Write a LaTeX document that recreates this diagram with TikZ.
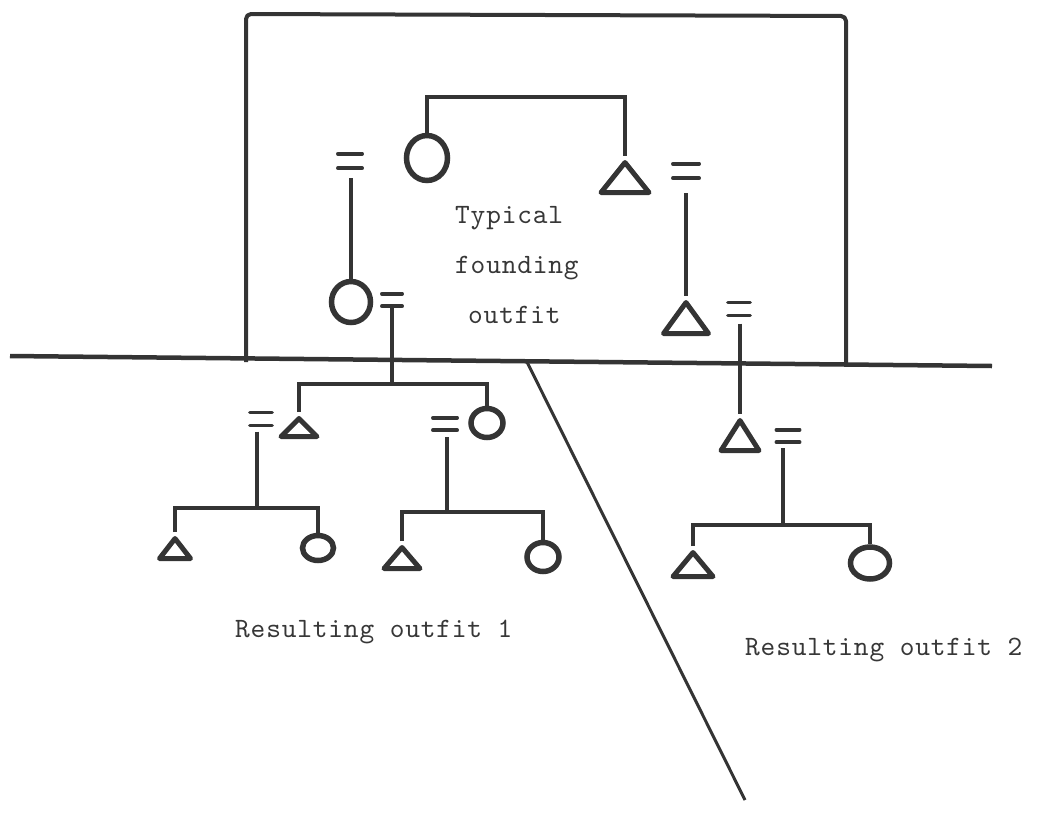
\documentclass[tikz,border=0pt]{standalone}
\usepackage{fontspec}
\newfontfamily\twfont{lmmono10-regular.otf}[LetterSpace=3]
\usetikzlibrary{shapes.geometric}
\definecolor{ink}{RGB}{52,52,52}
\definecolor{typeink}{RGB}{55,55,55}
\begin{document}
\begin{tikzpicture}[x=1pt,y=-1pt,
  frame/.style={draw=ink,line width=4,line join=round},
  ground/.style={draw=ink,line width=4.5},
  slant/.style={draw=ink,line width=3},
  conn/.style={draw=ink,line width=3.6,line join=miter},
  circ/.style={ellipse,draw=ink,line width=5.5,inner sep=0},
  tri/.style={isosceles triangle,isosceles triangle stretches,shape border rotate=90,
              draw=ink,line width=5,line join=round,inner sep=0,anchor=apex},
  eqs/.style={inner sep=0},
  bar/.style={draw=ink,line width=3.5,line cap=round},
  lbl/.style={font=\fontsize{28}{32}\selectfont\twfont,text=typeink,inner sep=0,anchor=base west}]
\useasboundingbox (0,0) rectangle (1042,828);

% frame, dividing line, slanted line
\draw[frame,rounded corners=5] (246,362) -- (246,14) -- (846,16) -- (846,364);
\draw[ground] (10,356) -- (992,366);
\draw[slant] (527,362) -- (745,800);

% founding outfit
\node[circ,minimum width=41,minimum height=45] (c1) at (427,158) {};
\node[tri,minimum width=48,minimum height=30] (t1) at (625,156) {};
\node[eqs,minimum width=24,minimum height=14] (e1) at (350,161) {};
\node[circ,minimum width=39,minimum height=41] (c2) at (351,302) {};
\node[eqs,minimum width=20,minimum height=12] (e2) at (392,300) {};
\node[eqs,minimum width=26,minimum height=14] (e3) at (686,171) {};
\node[tri,minimum width=45,minimum height=31] (t2) at (686,296) {};
\node[eqs,minimum width=22,minimum height=13] (e4) at (739,309) {};

% resulting outfit 1
\node[tri,minimum width=36,minimum height=18] (t3) at (299,412) {};
\node[circ,minimum width=32,minimum height=29] (c3) at (487,423) {};
\node[eqs,minimum width=22,minimum height=13] (e5) at (261,419) {};
\node[eqs,minimum width=24,minimum height=12] (e6) at (445,424) {};
\node[tri,minimum width=31,minimum height=20] (t6) at (175,532) {};
\node[circ,minimum width=31,minimum height=25] (c6) at (318,548) {};
\node[tri,minimum width=36,minimum height=21] (t7) at (402,541) {};
\node[circ,minimum width=32,minimum height=29] (c7) at (543,557) {};

% resulting outfit 2
\node[tri,minimum width=38,minimum height=30] (t5) at (740,414) {};
\node[eqs,minimum width=23,minimum height=12] (e7) at (788,436) {};
\node[tri,minimum width=40,minimum height=24] (t8) at (693,546) {};
\node[circ,minimum width=39,minimum height=32] (c8) at (870,563) {};

% marriage signs
\foreach \e in {e1,e2,e3,e4,e5,e6,e7}
  \draw[bar] (\e.north west) -- (\e.north east) (\e.south west) -- (\e.south east);

% sibling brackets
\coordinate (b0) at (526,97);
\coordinate (b1) at (392,384);
\coordinate (b2) at (257,508);
\coordinate (b3) at (447,512);
\coordinate (b4) at (783,525);
\draw[conn] (c1.north) |- (b0) -| (t1.apex);
\draw[conn] (t3.apex) |- (b1) -| (c3.north);
\draw[conn] (t6.apex) |- (b2) -| (c6.north);
\draw[conn] (t7.apex) |- (b3) -| (c7.north);
\draw[conn] (t8.apex) |- (b4) -| (c8.north);

% descent lines
\draw[conn,shorten <=10pt] (e1.south -| c2.north) -- (c2.north);
\draw[conn,shorten <=2pt] (e2.south -| b1) -- (b1);
\draw[conn,shorten <=15pt] (e3.south -| t2.apex) -- (t2.apex);
\draw[conn,shorten <=8pt] (e4.south -| t5.apex) -- (t5.apex);
\draw[conn,shorten <=6pt] (e5.south -| b2) -- (b2);
\draw[conn,shorten <=7pt] (e6.south -| b3) -- (b3);
\draw[conn,shorten <=6pt] (e7.south -| b4) -- (b4);

% labels
\node[lbl] (l1) at (455,223) {Typical};
\node[lbl] (l2) at (455,273) {founding};
\node[lbl] (l3) at (468,323) {outfit};
\node[lbl] (l4) at (235,637) {Resulting outfit 1};
\node[lbl] (l5) at (745,655) {Resulting outfit 2};
\end{tikzpicture}
\end{document}
